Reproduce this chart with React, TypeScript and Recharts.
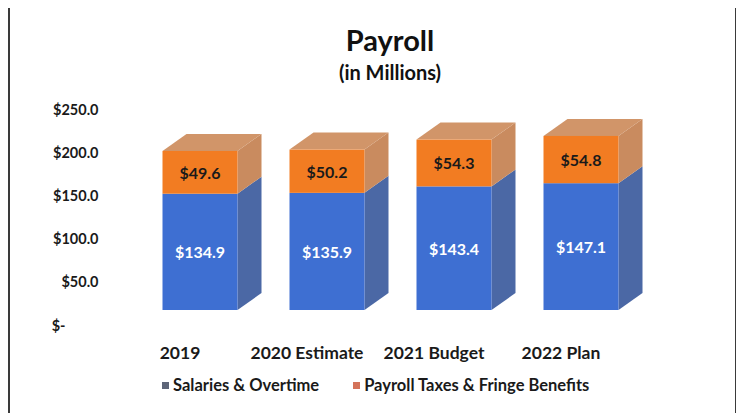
import React from "react";
import { BarChart, Bar, XAxis, YAxis, LabelList } from "recharts";

const categories = ["2019", "2020 Estimate", "2021 Budget", "2022 Plan"];
const salaries = [134.9, 135.9, 143.4, 147.1];
const taxes = [49.6, 50.2, 54.3, 54.8];
const yTicks = [0, 50, 100, 150, 200, 250];

const data = categories.map((name, i) => ({ name, salaries: salaries[i], taxes: taxes[i] }));

const FONT = "Lato, 'Open Sans', sans-serif";
const DX = 24;
const DY = 17;

const BLUE = "#3e6fd2";
const BLUE_SIDE = "#4b68a5";
const ORANGE = "#f27c22";
const ORANGE_SIDE = "#c98b5f";
const ORANGE_TOP = "#d19569";

// draws a front face plus the right side (and top for the upper segment)
function box(front: string, side: string, top?: string) {
  return (props: any) => {
    const { x, y, width, height } = props;
    if (!height) return <g />;
    return (
      <g>
        <path
          d={`M${x + width},${y} L${x + width + DX},${y - DY} L${x + width + DX},${y + height - DY} L${x + width},${y + height} Z`}
          fill={side}
        />
        {top && (
          <path d={`M${x},${y} L${x + DX},${y - DY} L${x + width + DX},${y - DY} L${x + width},${y} Z`} fill={top} />
        )}
        <rect x={x} y={y} width={width} height={height} fill={front} />
      </g>
    );
  };
}

function valueLabel(color: string) {
  return (props: any) => {
    const { x, y, width, height, value } = props;
    return (
      <text
        x={x + width / 2}
        y={y + height / 2}
        textAnchor="middle"
        dominantBaseline="central"
        fill={color}
        fontFamily={FONT}
        fontWeight={700}
        fontSize={16}
      >
        {`$${Number(value).toFixed(1)}`}
      </text>
    );
  };
}

function YTick(props: any) {
  const { x, y, payload } = props;
  const zero = payload.value === 0;
  return (
    <text
      x={zero ? x - 63 : x - 30}
      y={y + 15}
      textAnchor="end"
      dominantBaseline="central"
      fill="#1a1a1a"
      fontFamily={FONT}
      fontWeight={700}
      fontSize={14.5}
    >
      {zero ? "$-" : `$${payload.value.toFixed(1)}`}
    </text>
  );
}

function XTick(props: any) {
  const { x, y, payload } = props;
  return (
    <text
      x={x - 20}
      y={y + 34}
      textAnchor="middle"
      dominantBaseline="central"
      fill="#1a1a1a"
      fontFamily={FONT}
      fontWeight={700}
      fontSize={17.5}
    >
      {payload.value}
    </text>
  );
}

export default function App() {
  return (
    <div style={{ position: "relative", width: 744, height: 413, marginTop: -8, marginLeft: -8, background: "#fff", overflow: "hidden" }}>
      <div
        style={{
          position: "absolute",
          left: 8,
          top: 5,
          width: 729,
          height: 430,
          border: "2px solid #3a3a3a",
          boxSizing: "border-box",
        }}
      />
      <div
        style={{
          position: "absolute",
          left: 290,
          top: 24,
          width: 200,
          height: 32,
          lineHeight: "32px",
          textAlign: "center",
          fontFamily: FONT,
          fontWeight: 700,
          fontSize: 29,
          color: "#111",
        }}
      >
        Payroll
      </div>
      <div
        style={{
          position: "absolute",
          left: 290,
          top: 60,
          width: 200,
          height: 24,
          lineHeight: "24px",
          textAlign: "center",
          fontFamily: FONT,
          fontWeight: 700,
          fontSize: 20,
          color: "#111",
        }}
      >
        (in Millions)
      </div>
      <div style={{ position: "absolute", left: 0, top: 0 }}>
        <BarChart
          width={744}
          height={413}
          data={data}
          margin={{ top: 94.5, right: 99.5, bottom: 63, left: 0 }}
          barCategoryGap={26}
        >
          <XAxis dataKey="name" axisLine={false} tickLine={false} height={40} tick={<XTick />} interval={0} />
          <YAxis
            domain={[0, 250]}
            ticks={yTicks}
            width={136.5}
            axisLine={false}
            tickLine={false}
            tick={<YTick />}
            interval={0}
          />
          <Bar dataKey="salaries" stackId="a" fill={BLUE} shape={box(BLUE, BLUE_SIDE)} isAnimationActive={false}>
            <LabelList dataKey="salaries" content={valueLabel("#ffffff")} />
          </Bar>
          <Bar dataKey="taxes" stackId="a" fill={ORANGE} shape={box(ORANGE, ORANGE_SIDE, ORANGE_TOP)} isAnimationActive={false}>
            <LabelList dataKey="taxes" content={valueLabel("#1a1a1a")} />
          </Bar>
        </BarChart>
      </div>
      <div
        style={{
          position: "absolute",
          left: 162,
          top: 375,
          height: 20,
          display: "flex",
          alignItems: "center",
          fontFamily: FONT,
          fontWeight: 700,
          fontSize: 16.5,
          color: "#1a1a1a",
        }}
      >
        <span style={{ width: 7, height: 7, background: "#5d6578", marginRight: 4 }} />
        <span>Salaries &amp; Overtime</span>
        <span style={{ width: 7, height: 7, background: "#d4735a", marginLeft: 34, marginRight: 4 }} />
        <span>Payroll Taxes &amp; Fringe Benefits</span>
      </div>
    </div>
  );
}
